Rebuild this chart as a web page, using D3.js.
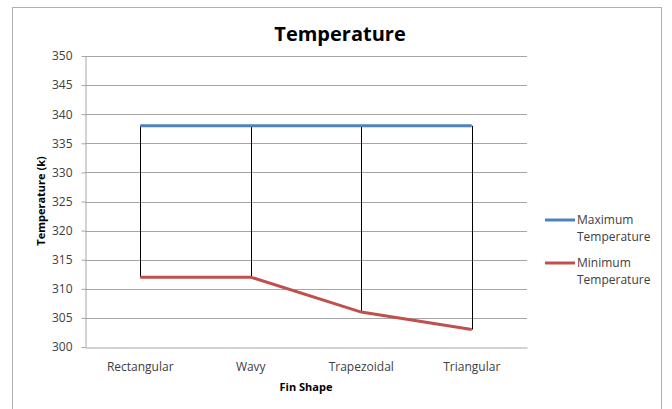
<!DOCTYPE html>
<html><head><meta charset="utf-8">
<script src="https://cdn.jsdelivr.net/npm/d3@7"></script>
<style>body{margin:0;background:#fff;}svg{display:block;font-family:"Open Sans",sans-serif;}</style>
</head><body>
<svg id="c" width="672" height="409"></svg>
<script>
const categories = ["Rectangular", "Wavy", "Trapezoidal", "Triangular"];
const maxTemp = [338, 338, 338, 338];
const minTemp = [312, 312, 306, 303];
const yTicks = [300, 305, 310, 315, 320, 325, 330, 335, 340, 345, 350];
const seriesNames = ["Maximum Temperature", "Minimum Temperature"];
const colors = ["#4F81BD", "#C0504D"];

const svg = d3.select("#c");
svg.append("rect").attr("x", 12.5).attr("y", 7.5).attr("width", 649).attr("height", 420)
  .attr("fill", "#fff").attr("stroke", "#b0b0b0").attr("stroke-width", 1);

const L = 85, R = 527, T = 56, B = 347;
const x = d3.scaleBand().domain(categories).range([L, R]);
const y = d3.scaleLinear().domain([300, 350]).range([B, T]);

// gridlines
svg.append("g").selectAll("line").data(yTicks.slice(1)).join("line")
  .attr("x1", L).attr("x2", R).attr("y1", d => Math.round(y(d)) + 0.5).attr("y2", d => Math.round(y(d)) + 0.5)
  .attr("stroke", "#a6a6a6").attr("stroke-width", 1);

// y axis
const ya = svg.append("g").attr("transform", `translate(${L + 0.5},0)`)
  .call(d3.axisLeft(y).tickValues(yTicks).tickSize(4).tickSizeOuter(0));
ya.select(".domain").attr("stroke", "#a6a6a6");
ya.selectAll(".tick line").attr("stroke", "#a6a6a6");
ya.selectAll(".tick text").attr("font-size", 12).attr("fill", "#404040").attr("x", -13)
  .attr("font-family", "'Open Sans',sans-serif");

// x axis
const xa = svg.append("g").attr("transform", `translate(0,${B + 0.5})`)
  .call(d3.axisBottom(x).tickSize(0).tickSizeOuter(0));
xa.select(".domain").attr("stroke", "#a6a6a6");
xa.selectAll(".tick text").attr("font-size", 12).attr("fill", "#404040").attr("dy", 0).attr("y", 23)
  .attr("font-family", "'Open Sans',sans-serif");

const cx = d => x(d) + x.bandwidth() / 2;

// high-low lines
svg.append("g").selectAll("line").data(categories).join("line")
  .attr("x1", d => Math.round(cx(d)) + 0.5).attr("x2", d => Math.round(cx(d)) + 0.5)
  .attr("y1", (d, i) => y(maxTemp[i])).attr("y2", (d, i) => y(minTemp[i]))
  .attr("stroke", "#000").attr("stroke-width", 1);

const line = d3.line().x(d => cx(d[0])).y(d => y(d[1]));
[maxTemp, minTemp].forEach((s, si) => {
  svg.append("path").datum(categories.map((c, i) => [c, s[i]]))
    .attr("d", line).attr("fill", "none").attr("stroke", colors[si]).attr("stroke-width", 3);
});

// title
svg.append("text").attr("x", 340).attr("y", 41).attr("text-anchor", "middle")
  .attr("font-size", 20).attr("font-weight", "bold").attr("fill", "#000").text("Temperature");

// axis titles
svg.append("text").attr("x", 306).attr("y", 391).attr("text-anchor", "middle")
  .attr("font-size", 11).attr("font-weight", "bold").attr("fill", "#000").text("Fin Shape");
svg.append("text").attr("transform", "translate(45,201) rotate(-90)").attr("text-anchor", "middle")
  .attr("font-size", 11).attr("font-weight", "bold").attr("fill", "#000").text("Temperature (k)");

// legend
const lg = svg.append("g");
seriesNames.forEach((n, i) => {
  const ly = 220 + i * 43;
  lg.append("line").attr("x1", 545).attr("x2", 575).attr("y1", ly).attr("y2", ly)
    .attr("stroke", colors[i]).attr("stroke-width", 3);
  const parts = n.split(" ");
  parts.forEach((p, j) => {
    lg.append("text").attr("x", 577).attr("y", ly + 4 + j * 17).attr("font-size", 12)
      .attr("fill", "#404040").text(p);
  });
});
</script>
</body></html>
